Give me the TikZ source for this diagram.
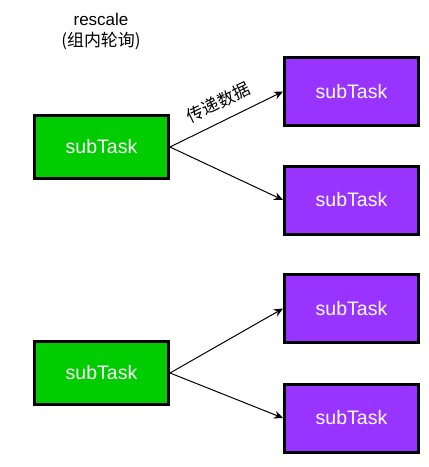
\documentclass[tikz,border=0pt]{standalone}
\usepackage{fontspec}
\setmainfont{Liberation Sans}
\newfontfamily\cjk{Noto Sans CJK SC}
\usetikzlibrary{arrows.meta}
\definecolor{boxgreen}{HTML}{00CC00}
\definecolor{boxpurple}{HTML}{9933FF}
\begin{document}
\begin{tikzpicture}[x=1pt,y=-1pt,
  greenbox/.style={draw=black,line width=3pt,fill=boxgreen,minimum width=134pt,minimum height=63pt,inner sep=0pt,text=white,font=\fontsize{19.5}{22}\selectfont},
  purplebox/.style={draw=black,line width=3pt,fill=boxpurple,minimum width=134pt,minimum height=68pt,inner sep=0pt,text=white,font=\fontsize{19.5}{22}\selectfont},
  conn/.style={draw=black,line width=1pt,-{Stealth[length=9pt,width=8pt]}}]
\useasboundingbox (0,0) rectangle (429,467);
\node[align=center,font=\fontsize{17}{21}\selectfont] (title) at (101,32) {rescale\\{\cjk (组内轮询)}};
\node[greenbox] (g1) at (101.5,147) {subTask};
\node[greenbox] (g2) at (101.5,373) {subTask};
\node[purplebox] (p1) at (351.5,91.5) {subTask};
\node[purplebox] (p2) at (351.5,200) {subTask};
\node[purplebox] (p3) at (351.5,308.5) {subTask};
\node[purplebox] (p4) at (351.5,418) {subTask};
\draw[conn] (g1.east) -- node[pos=0.5,above=7pt,sloped,font=\cjk\fontsize{17}{19}\selectfont] (lbl) {传递数据} (p1.west);
\draw[conn] (g1.east) -- (p2.west);
\draw[conn] (g2.east) -- (p3.west);
\draw[conn] (g2.east) -- (p4.west);
\end{tikzpicture}
\end{document}
